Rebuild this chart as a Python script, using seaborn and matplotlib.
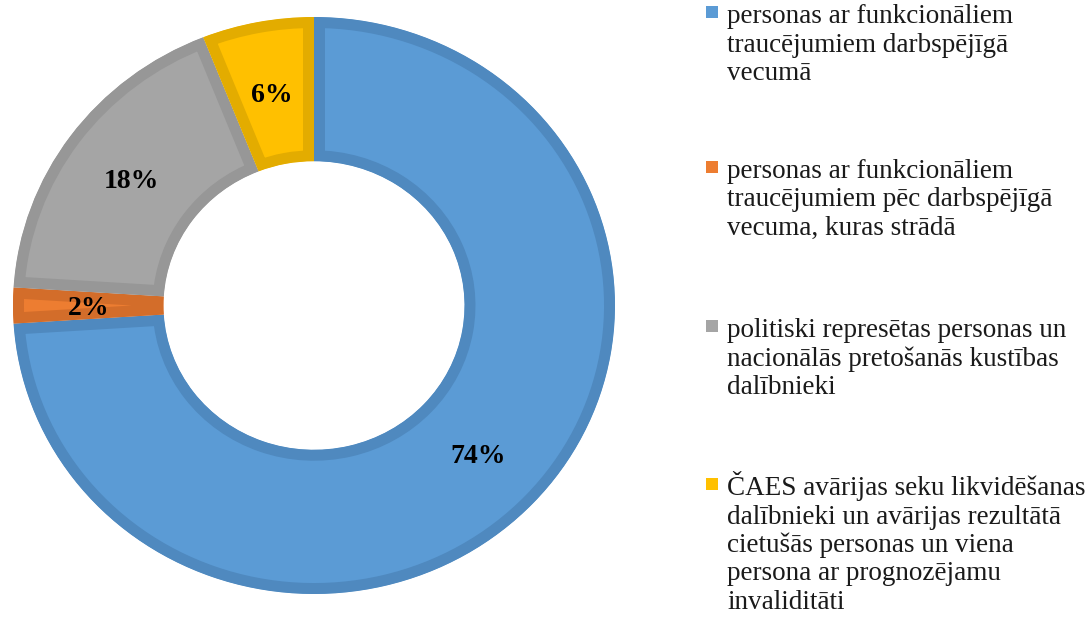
import matplotlib
matplotlib.use('Agg')
import matplotlib.pyplot as plt
import matplotlib.patches as mpatches
import seaborn as sns

#######################
#
# DATA
#
#######################
CATEGORIES = [
    'personas ar funkcionāliem\ntraucējumiem darbspējīgā\nvecumā',
    'personas ar funkcionāliem\ntraucējumiem pēc darbspējīgā\nvecuma, kuras strādā',
    'politiski represētas personas un\nnacionālās pretošanās kustības\ndalībnieki',
    'ČAES avārijas seku likvidēšanas\ndalībnieki un avārijas rezultātā\ncietušās personas un viena\npersona ar prognozējamu\ninvaliditāti',
]
SHARES = [74, 2, 18, 6]

FILL_COLORS = ['#5B9BD5', '#ED7D31', '#A5A5A5', '#FFC000']
EDGE_COLORS = ['#4F89BF', '#D36D2A', '#979797', '#E3AC00']

#######################
#
# PLOT
#
#######################
sns.set_theme(style='white')
plt.rcParams['font.family'] = ['Liberation Serif', 'DejaVu Serif']

W, H = 1092, 617
fig = plt.figure(figsize=(W / 100, H / 100), dpi=100)

# pie axes placed on the pixel box of the reference ring
ax = fig.add_axes([13 / W, (H - 594) / H, 602 / W, 577 / H])

wedges, texts, autotexts = ax.pie(
    SHARES,
    colors=FILL_COLORS,
    startangle=90,
    counterclock=False,
    autopct='%d%%',
    pctdistance=0.75,
    wedgeprops=dict(width=0.5, linewidth=15.8),
    textprops=dict(fontsize=20, fontweight='bold', color='black'),
)
# border only on the inside of each wedge (clip the stroke to the wedge)
for w, ec in zip(wedges, EDGE_COLORS):
    w.set_edgecolor(ec)
    w.set_clip_on(True)
    w.set_clip_path(w)
for t in autotexts:
    t.set_va('center_baseline')

ax.set_xlim(-1, 1)
ax.set_ylim(-1, 1)
ax.set_aspect('auto')
ax.axis('off')

# legend, Excel style: square next to the first line
legend_x = 727
entry_baselines = [23, 178, 337, 495]
line_step = 28.5
for label, col, base in zip(CATEGORIES, FILL_COLORS, entry_baselines):
    for k, line in enumerate(label.split('\n')):
        fig.text(legend_x / W, 1 - (base + k * line_step) / H, line,
                 ha='left', va='baseline', fontsize=19.5, color='#1a1a1a')
    sq = mpatches.Rectangle((706 / W, 1 - (base - 5) / H), 12 / W, 12 / H,
                            transform=fig.transFigure, facecolor=col,
                            edgecolor='none')
    fig.patches.append(sq)

fig.savefig('out.png', dpi=100, facecolor='white')
